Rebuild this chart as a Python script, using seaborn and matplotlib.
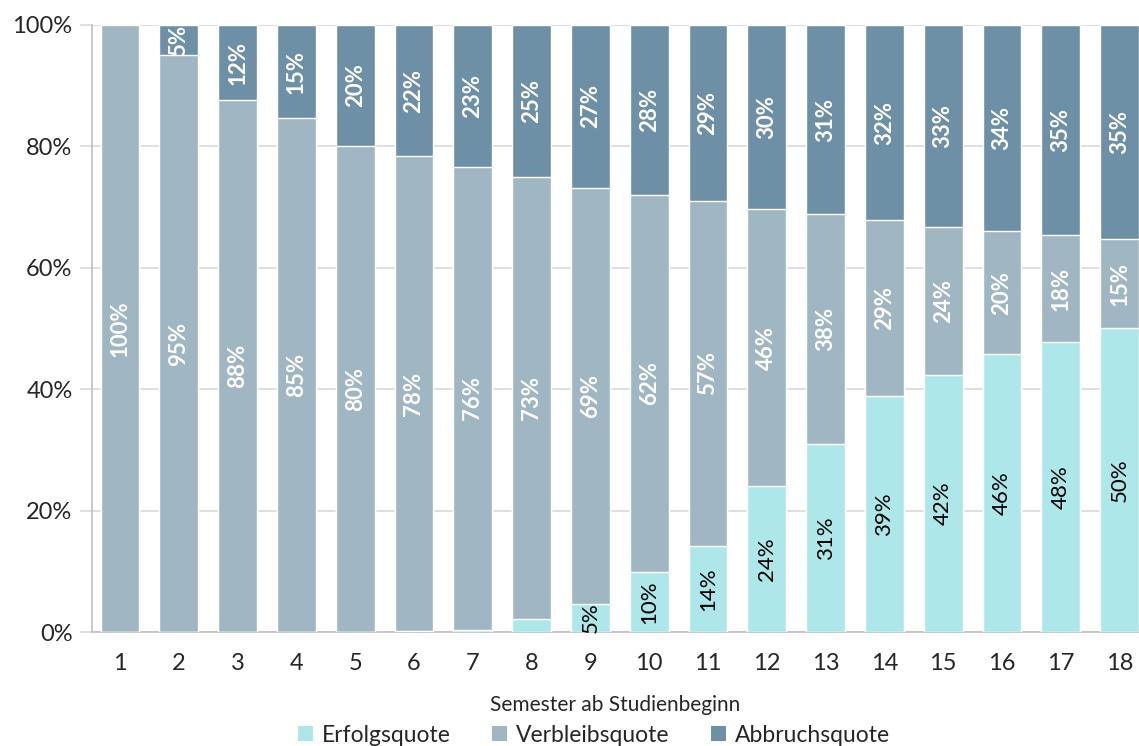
import matplotlib
matplotlib.use("Agg")
import matplotlib.pyplot as plt
import seaborn as sns
import numpy as np
import pandas as pd
from matplotlib.patches import Patch

semester = [str(i) for i in range(1, 19)]
erfolg = [0.0, 0.0, 0.0, 0.0, 0.0, 0.2, 0.4, 2.2, 4.6, 9.9, 14.2, 24.0, 31.0, 38.9, 42.3, 45.8, 47.8, 50.1]
verbleib = [100.0, 95.0, 87.6, 84.6, 80.1, 78.2, 76.2, 72.8, 68.6, 62.1, 56.8, 45.7, 37.8, 28.9, 24.4, 20.2, 17.6, 14.6]
abbruch = [0.0, 5.0, 12.4, 15.4, 19.9, 21.6, 23.4, 25.0, 26.8, 28.0, 29.0, 30.3, 31.2, 32.2, 33.3, 34.0, 34.6, 35.3]
series_names = ["Erfolgsquote", "Verbleibsquote", "Abbruchsquote"]
colors = ["#AEE7EA", "#A0B6C3", "#6E90A6"]

sns.set_theme(style="white")
plt.rcParams["font.family"] = ["Lato", "DejaVu Sans"]

df = pd.DataFrame({"sem": semester, "e": erfolg, "v": verbleib, "a": abbruch})
df["ev"] = df["e"] + df["v"]
df["total"] = df["ev"] + df["a"]

fig = plt.figure(figsize=(11.39, 7.46), dpi=100)
ax = fig.add_axes([0.0808, 0.1528, 1 - 0.0808, 0.9665 - 0.1528])

bw = 0.66
sns.barplot(data=df, x="sem", y="total", color=colors[2], width=bw, saturation=1,
            edgecolor="white", linewidth=1, ax=ax, zorder=2)
sns.barplot(data=df, x="sem", y="ev", color=colors[1], width=bw, saturation=1,
            edgecolor="white", linewidth=1, ax=ax, zorder=3)
sns.barplot(data=df, x="sem", y="e", color=colors[0], width=bw, saturation=1,
            edgecolor="white", linewidth=1, ax=ax, zorder=4)

fs_lab = 16
for i in range(len(semester)):
    e, v, a = erfolg[i], verbleib[i], abbruch[i]
    if e >= 4:
        ax.text(i, e / 2, f"{round(e):d}%", rotation=90, ha="center", va="center",
                color="black", fontsize=fs_lab, zorder=6)
    if v >= 4:
        ax.text(i, e + v / 2, f"{round(v):d}%", rotation=90, ha="center", va="center",
                color="white", fontsize=fs_lab, fontweight="bold", zorder=6)
    if a >= 4:
        ax.text(i, e + v + a / 2, f"{round(a):d}%", rotation=90, ha="center", va="center",
                color="white", fontsize=fs_lab, fontweight="bold", zorder=6, clip_on=True)

ax.set_ylim(0, 100)
ax.set_xlim(-0.475, 17.33)
ax.set_yticks([0, 20, 40, 60, 80, 100])
ax.set_yticklabels([f"{t}%" for t in [0, 20, 40, 60, 80, 100]])
ax.yaxis.grid(True, color="#D9D9D9", linewidth=1.2, zorder=0)
ax.set_axisbelow(True)
for s in ["top", "right"]:
    ax.spines[s].set_visible(False)
for s in ["left", "bottom"]:
    ax.spines[s].set_color("#BFBFBF")
    ax.spines[s].set_linewidth(1.2)
ax.tick_params(axis="y", which="both", left=True, length=9, color="#D9D9D9", width=1.2,
               labelsize=17, pad=5)
ax.tick_params(axis="x", bottom=False, labelsize=17, pad=9)
ax.set_xlabel("Semester ab Studienbeginn", fontsize=15, labelpad=15)
ax.set_ylabel("")

handles = [Patch(facecolor=c, edgecolor="none", label=n) for c, n in zip(colors, series_names)]
fig.legend(handles=handles, loc="lower center", bbox_to_anchor=(0.5215, -0.027), ncol=3,
           frameon=False, fontsize=16.5, handlelength=0.65, handleheight=0.65,
           handletextpad=0.4, columnspacing=1.8)

fig.savefig("out.png", dpi=100)
